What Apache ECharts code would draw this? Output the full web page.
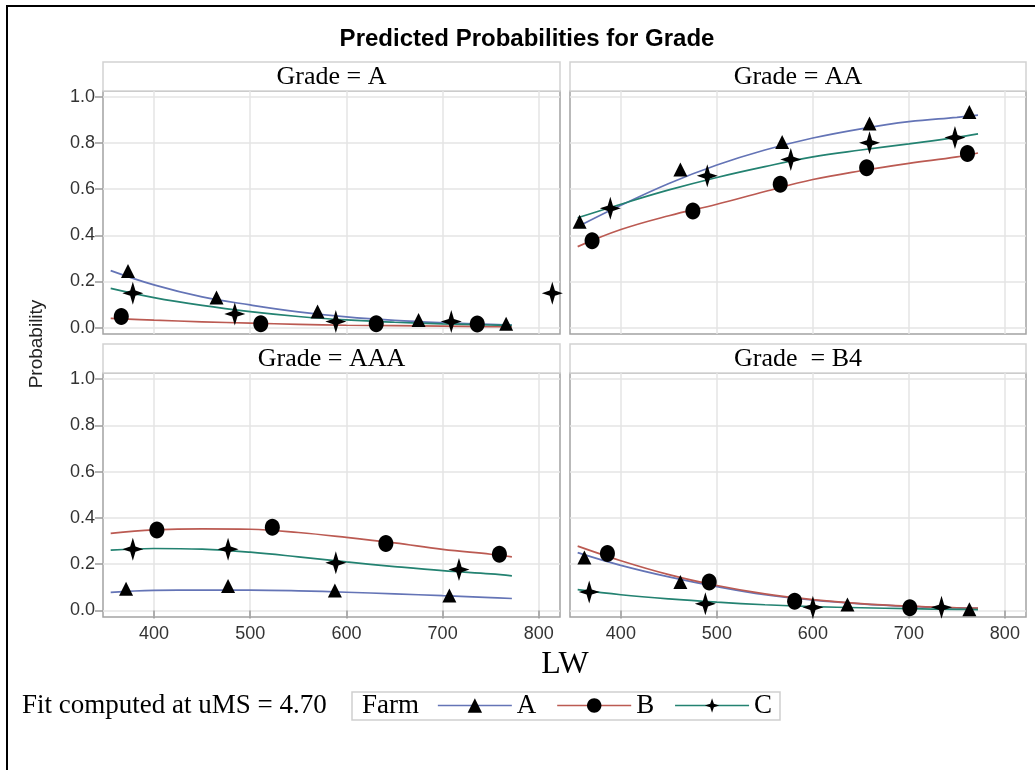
<!DOCTYPE html>
<html>
<head>
<meta charset="utf-8">
<script src="https://cdn.jsdelivr.net/npm/echarts@6/dist/echarts.min.js"></script>
<style>
  html, body { margin: 0; padding: 0; background: #fff; }
  #chart { width: 1035px; height: 770px; }
</style>
</head>
<body>
<div id="chart"></div>
<script>
// Farms, panel titles and tick values
const farms = ['A', 'B', 'C'];
const grades = ['Grade = A', 'Grade = AA', 'Grade = AAA', 'Grade  = B4'];
const lwTicks = [400, 500, 600, 700, 800];
const probTicks = [0, 0.2, 0.4, 0.6, 0.8, 1.0];

// LW values at which the fitted curves are evaluated
const fitLW = [355, 400, 450, 500, 550, 600, 650, 700, 750, 772];

// Fitted probabilities, Grade = A
const fitA_farmA = [0.247, 0.185, 0.133, 0.098, 0.068, 0.046, 0.031, 0.021, 0.014, 0.011];
const fitA_farmB = [0.040, 0.032, 0.025, 0.019, 0.014, 0.010, 0.008, 0.006, 0.004, 0.003];
const fitA_farmC = [0.170, 0.130, 0.096, 0.069, 0.048, 0.033, 0.023, 0.016, 0.011, 0.009];
// Fitted probabilities, Grade = AA
const fitAA_farmA = [0.437, 0.530, 0.625, 0.705, 0.770, 0.822, 0.862, 0.893, 0.912, 0.921];
const fitAA_farmB = [0.351, 0.425, 0.485, 0.535, 0.590, 0.642, 0.680, 0.712, 0.740, 0.757];
const fitAA_farmC = [0.476, 0.535, 0.597, 0.651, 0.698, 0.740, 0.770, 0.797, 0.825, 0.840];
// Fitted probabilities, Grade = AAA
const fitAAA_farmA = [0.078, 0.087, 0.088, 0.088, 0.085, 0.079, 0.072, 0.064, 0.056, 0.052];
const fitAAA_farmB = [0.333, 0.348, 0.353, 0.351, 0.337, 0.316, 0.292, 0.264, 0.243, 0.232];
const fitAAA_farmC = [0.261, 0.268, 0.265, 0.252, 0.232, 0.210, 0.190, 0.172, 0.158, 0.150];
// Fitted probabilities, Grade = B4
const fitB4_farmA = [0.250, 0.195, 0.145, 0.103, 0.068, 0.045, 0.029, 0.018, 0.011, 0.009];
const fitB4_farmB = [0.278, 0.215, 0.155, 0.108, 0.072, 0.047, 0.030, 0.019, 0.012, 0.010];
const fitB4_farmC = [0.090, 0.068, 0.050, 0.036, 0.025, 0.017, 0.012, 0.008, 0.005, 0.004];

// Observed proportions [LW, probability]
const obsA_farmA = [[373, 0.245], [465, 0.130], [570, 0.070], [675, 0.033], [766, 0.016]];
const obsA_farmB = [[366, 0.048], [511, 0.016], [631, 0.016], [736, 0.015]];
const obsA_farmC = [[378, 0.149], [484, 0.059], [589, 0.026], [709, 0.026], [814, 0.149]];
const obsAA_farmA = [[357, 0.459], [462, 0.686], [568, 0.805], [659, 0.885], [763, 0.935]];
const obsAA_farmB = [[370, 0.377], [475, 0.506], [566, 0.621], [656, 0.693], [761, 0.755]];
const obsAA_farmC = [[389, 0.517], [490, 0.658], [577, 0.729], [659, 0.801], [748, 0.824]];
const obsAAA_farmA = [[371, 0.094], [477, 0.106], [588, 0.087], [707, 0.065]];
const obsAAA_farmB = [[403, 0.348], [523, 0.360], [641, 0.290], [759, 0.243]];
const obsAAA_farmC = [[378, 0.265], [477, 0.265], [589, 0.206], [717, 0.177]];
const obsB4_farmA = [[362, 0.229], [462, 0.123], [636, 0.026], [763, 0.005]];
const obsB4_farmB = [[386, 0.246], [492, 0.123], [581, 0.040], [701, 0.012]];
const obsB4_farmC = [[367, 0.080], [488, 0.029], [600, 0.014], [734, 0.014]];

const fits = [
  [fitA_farmA, fitA_farmB, fitA_farmC],
  [fitAA_farmA, fitAA_farmB, fitAA_farmC],
  [fitAAA_farmA, fitAAA_farmB, fitAAA_farmC],
  [fitB4_farmA, fitB4_farmB, fitB4_farmC]
];
const obs = [
  [obsA_farmA, obsA_farmB, obsA_farmC],
  [obsAA_farmA, obsAA_farmB, obsAA_farmC],
  [obsAAA_farmA, obsAAA_farmB, obsAAA_farmC],
  [obsB4_farmA, obsB4_farmB, obsB4_farmC]
];

// Styling
const SANS = "'Liberation Sans', Arial, sans-serif";
const SERIF = "'Liberation Serif', 'Times New Roman', serif";
const lineColors = ['#6474b6', '#bb5a52', '#238271'];
const DOT = 'path://M10,0C15.52,0 20,4.48 20,10C20,15.52 15.52,20 10,20C4.48,20 0,15.52 0,10C0,4.48 4.48,0 10,0Z';
const STAR = 'path://M10,0L12.5,8.5L20,11L12.5,13.5L10,22L7.5,13.5L0,11L7.5,8.5Z';
const symbols = ['triangle', DOT, STAR];
const symbolSizes = [[14, 14], [15, 17], [21, 23]];

// Panel rectangles (plot area) and header strip
const panels = [
  { left: 103, top: 91, width: 457, height: 243 },
  { left: 570, top: 91, width: 456, height: 243 },
  { left: 103, top: 373, width: 457, height: 244 },
  { left: 570, top: 373, width: 456, height: 244 }
];
const HEADER_H = 29;

const grid = panels.map(p => ({
  left: p.left, top: p.top, width: p.width, height: p.height,
  show: true, borderColor: '#a3a3a3', borderWidth: 1.5, backgroundColor: 'transparent',
  containLabel: false
}));

const xAxis = panels.map((p, i) => {
  const bottomRow = i >= 2;
  return {
    type: 'value', gridIndex: i, min: 347, max: 822,
    axisLine: { show: false },
    axisTick: { show: bottomRow, length: 8, customValues: lwTicks, lineStyle: { color: '#9a9a9a', width: 1.5 } },
    axisLabel: { show: bottomRow, customValues: lwTicks, margin: 8, fontFamily: SANS, fontSize: 18, color: '#333' },
    splitLine: { show: true, lineStyle: { color: '#e4e4e4', width: 1.5 } }
  };
});

const yAxis = panels.map((p, i) => {
  const leftCol = i % 2 === 0;
  return {
    type: 'value', gridIndex: i, min: -0.028, max: 1.026,
    axisLine: { show: false },
    axisTick: { show: leftCol, length: 8, customValues: probTicks, lineStyle: { color: '#9a9a9a', width: 1.5 } },
    axisLabel: {
      show: leftCol, customValues: probTicks, margin: 8, fontFamily: SANS, fontSize: 18, color: '#333',
      formatter: v => v.toFixed(1)
    },
    splitLine: { show: true, lineStyle: { color: '#e4e4e4', width: 1.5 } }
  };
});

const series = [];
// fitted curves first, so the legend picks up line + marker icons
fits.forEach((panelFits, pi) => {
  panelFits.forEach((vals, fi) => {
    series.push({
      type: 'line', name: farms[fi], xAxisIndex: pi, yAxisIndex: pi,
      data: fitLW.map((x, k) => [x, vals[k]]),
      smooth: 0.4,
      symbol: symbols[fi], showSymbol: false, silent: true,
      lineStyle: { color: lineColors[fi], width: 1.7 },
      itemStyle: { color: lineColors[fi] },
      z: 2
    });
  });
});
obs.forEach((panelObs, pi) => {
  panelObs.forEach((pts, fi) => {
    series.push({
      type: 'scatter', name: farms[fi], xAxisIndex: pi, yAxisIndex: pi,
      data: pts, symbol: symbols[fi], symbolSize: symbolSizes[fi],
      itemStyle: { color: '#000', opacity: 1 }, silent: true, z: 5
    });
  });
});

const graphic = [
  // outer frame
  { type: 'rect', shape: { x: 7, y: 6, width: 1100, height: 900 }, style: { fill: 'none', stroke: '#000', lineWidth: 2 }, z: 10 },
  // title
  { type: 'text', x: 527, y: 39, style: { text: 'Predicted Probabilities for Grade', font: "bold 24px " + SANS, fill: '#000', align: 'center', verticalAlign: 'middle' } },
  // axis names
  { type: 'text', x: 37, y: 344, rotation: Math.PI / 2, style: { text: 'Probability', font: "19px " + SANS, fill: '#222', align: 'center', verticalAlign: 'middle' } },
  { type: 'text', x: 565, y: 665, style: { text: 'LW', font: "32px " + SERIF, fill: '#000', align: 'center', verticalAlign: 'middle' } },
  // footnote and legend frame
  { type: 'text', x: 22, y: 706, style: { text: 'Fit computed at uMS = 4.70', font: "27px " + SERIF, fill: '#000', align: 'left', verticalAlign: 'middle' } },
  { type: 'rect', shape: { x: 352, y: 692, width: 428, height: 28 }, style: { fill: '#fff', stroke: '#cfcfcf', lineWidth: 1.5 }, z: 0 },
  { type: 'text', x: 362, y: 706, style: { text: 'Farm', font: "27px " + SERIF, fill: '#000', align: 'left', verticalAlign: 'middle' }, z: 1 }
];
// panel headers
panels.forEach((p, i) => {
  const ht = p.top - HEADER_H;
  graphic.push({ type: 'rect', shape: { x: p.left, y: ht, width: p.width, height: HEADER_H }, style: { fill: '#fff', stroke: '#d2d2d2', lineWidth: 1.5 }, z: 0 });
  graphic.push({ type: 'text', x: p.left + p.width / 2, y: ht + HEADER_H / 2 + 1, style: { text: grades[i], font: "26px " + SERIF, fill: '#000', align: 'center', verticalAlign: 'middle' }, z: 1 });
});

const chart = echarts.init(document.getElementById('chart'), null, { renderer: 'canvas' });
chart.setOption({
  backgroundColor: '#fff',
  animation: false,
  grid, xAxis, yAxis, series, graphic,
  legend: {
    data: farms, left: 437, top: 692, padding: 0,
    itemWidth: 74, itemHeight: 18, itemGap: 20, selectedMode: false,
    textStyle: { fontFamily: SERIF, fontSize: 27, color: '#000' },
    itemStyle: { color: '#000', borderWidth: 0 },
    lineStyle: { width: 1.7 }
  }
});
</script>
</body>
</html>
